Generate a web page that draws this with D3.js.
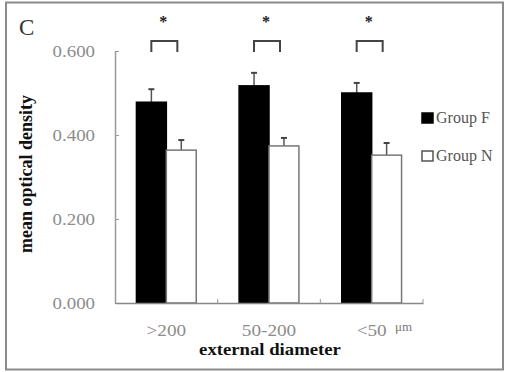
<!DOCTYPE html>
<html>
<head>
<meta charset="utf-8">
<script src="https://cdn.jsdelivr.net/npm/d3@7"></script>
<style>
body{margin:0;background:#fff;}
svg text{font-family:"Liberation Serif","Times New Roman",serif;}
</style>
</head>
<body>
<div id="wrap"></div>
<script>
var categories = [">200", "50-200", "<50"];
var groups = ["Group F", "Group N"];
var groupF = [0.478, 0.517, 0.500];
var groupFerr = [0.031, 0.031, 0.024];
var groupN = [0.364, 0.374, 0.352];
var groupNerr = [0.024, 0.019, 0.029];
var yTicks = [0, 0.2, 0.4, 0.6];

var W = 507, H = 372;
var serif = "'Liberation Serif','Times New Roman',serif";
var svg = d3.select("#wrap").append("svg").attr("width", W).attr("height", H);

//outer frame
svg.append("rect").attr("x", 6).attr("y", 2.5).attr("width", 497).attr("height", 367)
	.attr("fill", "#fff").attr("stroke", "#8a8a8a").attr("stroke-width", 2);

var plot = {left:115, right:423, top:51, bottom:303};

var x = d3.scaleBand().domain(categories).range([plot.left, plot.right]).paddingInner(0).paddingOuter(0);
var xg = d3.scaleBand().domain(groups).range([0, x.bandwidth()]).paddingInner(0).paddingOuter(0.717);
var y = d3.scaleLinear().domain([0, 0.6]).range([plot.bottom, plot.top]);

//stretch text a little wider, the source picture is widened
function widen(sel, k){
	sel.each(function(){
		var n = this.getComputedTextLength();
		d3.select(this).attr("textLength", n*k).attr("lengthAdjust", "spacingAndGlyphs");
	});
}

var g = svg.append("g");

var flat = [];
categories.forEach(function(c, i){
	flat.push({cat:c, grp:groups[0], v:groupF[i], e:groupFerr[i]});
	flat.push({cat:c, grp:groups[1], v:groupN[i], e:groupNerr[i]});
});
var cx = function(d){return x(d.cat) + xg(d.grp) + xg.bandwidth()/2};

//error bars
var eb = g.selectAll("g.err").data(flat).enter().append("g").classed("err", true);
eb.append("line")
	.attr("x1", cx).attr("x2", cx)
	.attr("y1", function(d){return y(d.v)})
	.attr("y2", function(d){return y(d.v + d.e)})
	.attr("stroke", "#555").attr("stroke-width", 1.5);
eb.append("line")
	.attr("x1", function(d){return cx(d) - 3})
	.attr("x2", function(d){return cx(d) + 3})
	.attr("y1", function(d){return y(d.v + d.e)})
	.attr("y2", function(d){return y(d.v + d.e)})
	.attr("stroke", "#444").attr("stroke-width", 2);

g.selectAll("rect.bar").data(flat).enter().append("rect").classed("bar", true)
	.attr("x", function(d){return x(d.cat) + xg(d.grp)})
	.attr("y", function(d){return y(d.v)})
	.attr("width", xg.bandwidth())
	.attr("height", function(d){return y(0) - y(d.v)})
	.attr("fill", function(d){return d.grp == groups[0] ? "#000" : "#fff"})
	.attr("stroke", function(d){return d.grp == groups[0] ? "#000" : "#777"})
	.attr("stroke-width", 1.5);

//y axis
var yAxis = d3.axisLeft(y).tickValues(yTicks).tickFormat(d3.format(".3f"))
	.tickSizeInner(-4).tickSizeOuter(0).tickPadding(20);
var ya = svg.append("g").attr("transform", "translate(" + plot.left + ",0)").call(yAxis);
ya.attr("font-family", serif);
ya.select(".domain").attr("stroke", "#999").attr("stroke-width", 1.5);
ya.selectAll(".tick line").attr("stroke", "#999");
ya.selectAll(".tick text").attr("fill", "#8c8c8c").attr("font-size", 16).attr("dy", "0.34em");
widen(ya.selectAll(".tick text"), 1.18);

//x axis
var xAxis = d3.axisBottom(x).tickSize(0).tickPadding(22);
var xa = svg.append("g").attr("transform", "translate(0," + plot.bottom + ")").call(xAxis);
xa.attr("font-family", serif);
xa.select(".domain").attr("stroke", "#888").attr("stroke-width", 1.5);
xa.selectAll(".tick text").attr("fill", "#8c8c8c").attr("font-size", 16);
widen(xa.selectAll(".tick text"), 1.2);
//boundary ticks pointing up
xa.selectAll("line.bound").data(categories).enter().append("line").classed("bound", true)
	.attr("x1", function(d){return x(d) + x.bandwidth()})
	.attr("x2", function(d){return x(d) + x.bandwidth()})
	.attr("y1", 0).attr("y2", -4).attr("stroke", "#999");

//unit
svg.append("text").attr("x", 395).attr("y", 331).attr("font-size", 13).attr("fill", "#777").text("μm");

//axis titles
var xt = svg.append("text").attr("x", 270).attr("y", 355).attr("text-anchor", "middle")
	.attr("font-size", 17).attr("font-weight", "bold").attr("fill", "#111").text("external diameter");
widen(xt, 1.1);
var yt = svg.append("text").attr("transform", "translate(32,174) rotate(-90)").attr("text-anchor", "middle")
	.attr("font-size", 18).attr("font-weight", "bold").attr("fill", "#111").text("mean optical density");

//panel letter
svg.append("text").attr("x", 19).attr("y", 35).attr("font-size", 23).attr("fill", "#333").text("C");

//significance brackets
var sig = svg.selectAll("g.sig").data(categories).enter().append("g").classed("sig", true);
sig.append("path")
	.attr("d", function(d){
		var c = x(d) + x.bandwidth()/2 - 2;
		return "M" + (c-13) + ",52V41H" + (c+13) + "V52";
	})
	.attr("fill", "none").attr("stroke", "#444").attr("stroke-width", 2);
sig.append("text")
	.attr("x", function(d){return x(d) + x.bandwidth()/2 - 3})
	.attr("y", 27).attr("text-anchor", "middle").attr("font-size", 16).attr("font-weight", "bold")
	.attr("fill", "#222").text("*");

//legend
var leg = svg.selectAll("g.leg").data(groups).enter().append("g").classed("leg", true)
	.attr("transform", function(d, i){return "translate(422," + (113 + i*38) + ")"});
leg.append("rect").attr("width", 11).attr("height", 10)
	.attr("fill", function(d, i){return i == 0 ? "#000" : "#fff"})
	.attr("stroke", function(d, i){return i == 0 ? "#000" : "#555"}).attr("stroke-width", 1.5);
leg.append("text").attr("x", 14).attr("y", 10).attr("font-size", 16).attr("fill", "#555").text(function(d){return d});
</script>
</body>
</html>
